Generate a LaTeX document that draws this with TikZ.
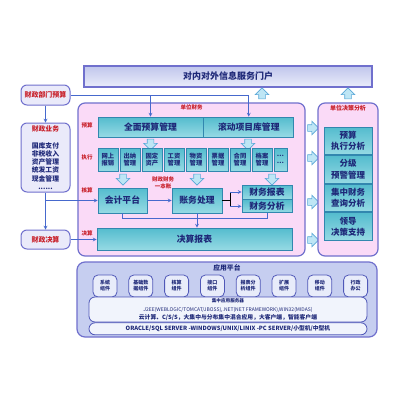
\documentclass[tikz,border=0pt]{standalone}
\usepackage{fontspec}
\setmainfont{Noto Sans CJK SC}
\usetikzlibrary{shapes,arrows,positioning,calc}

\newcommand{\fsz}[2]{\fontsize{#1}{#2}\selectfont}

\definecolor{navy}{RGB}{30,40,120}
\definecolor{tagred}{RGB}{200,30,40}
\definecolor{framecol}{RGB}{112,112,205}
\definecolor{pinkbg}{RGB}{250,218,247}
\definecolor{bannertop}{RGB}{192,198,236}
\definecolor{bannerbot}{RGB}{234,236,250}
\definecolor{tealtop}{RGB}{84,188,206}
\definecolor{tealbot}{RGB}{150,218,228}
\definecolor{tealline}{RGB}{50,135,175}
\definecolor{sidebg}{RGB}{234,234,250}
\definecolor{platbg}{RGB}{198,206,240}
\definecolor{compbg}{RGB}{232,236,250}
\definecolor{compline}{RGB}{80,88,184}
\definecolor{wire}{RGB}{70,105,205}
\definecolor{hollowbg}{RGB}{190,230,245}
\definecolor{hollowline}{RGB}{90,168,216}

\begin{document}
\begin{tikzpicture}[
    x=1pt, y=-1pt,
    every node/.style={font=\fsz{7}{8}, text=navy, inner sep=0pt},
    banner/.style={rectangle, draw=framecol, line width=1.2pt, top color=bannertop, bottom color=bannerbot, minimum width=288pt, minimum height=21pt},
    sidebox/.style={rectangle, rounded corners=6pt, draw=framecol, line width=1pt, fill=sidebg, minimum width=49pt, text=tagred, font=\fsz{7}{8}\bfseries},
    panel/.style={rectangle, rounded corners=7pt, draw=framecol, line width=1.2pt, fill=pinkbg},
    tealbox/.style={rectangle, draw=tealline, line width=0.8pt, top color=tealtop, bottom color=tealbot, font=\fsz{8.8}{10}\bfseries, align=center},
    cell/.style={tealbox, minimum width=20pt, minimum height=23pt, font=\fsz{6.3}{7.3}\bfseries},
    decbox/.style={tealbox, minimum width=48pt, minimum height=27.75pt, font=\fsz{8.5}{11.5}\bfseries},
    tag/.style={text=tagred, font=\fsz{5.5}{6.2}\bfseries, align=center},
    platform/.style={rectangle, rounded corners=8pt, draw=framecol, line width=1.2pt, fill=platbg},
    comp/.style={rectangle, rounded corners=5pt, draw=compline, line width=0.8pt, fill=compbg, minimum width=24pt, minimum height=22pt, align=center, font=\fsz{5}{6}\bfseries},
    band/.style={rectangle, rounded corners=6pt, draw=compline, line width=0.8pt, fill=compbg!60!white, minimum width=278pt, align=center},
    hollow/.style={single arrow, draw=hollowline, fill=hollowbg, line width=0.6pt, inner sep=3pt, single arrow head extend=3.5pt, minimum height=11pt},
    arrow/.style={->,>=stealth, draw=wire, line width=0.7pt}
]

\fill[white] (0,0) rectangle (400,400);
\useasboundingbox (0,0) rectangle (400,400);

% Portal
\node[banner] (portal) at (228,76.5) {\fsz{9}{10}\bfseries 对内对外信息服务门户};
\node[hollow, shape border rotate=90] (upA) at (262,95) {};
\node[hollow, shape border rotate=90] (upB) at (348,95) {};

% Finance department column
\node[sidebox, minimum height=20pt] (deptbudget) at (45.5,95) {财政部门预算};
\node[sidebox, minimum height=69pt, align=center, text=navy, font=\fsz{6.8}{8.2}\bfseries] (finbiz) at (45.5,157.5) {\textcolor{tagred}{财政业务}\\[8.5pt] 国库支付\\ 非税收入\\ 资产管理\\ 统发工资\\ 现金管理\\ ......};
\node[sidebox, minimum height=19pt] (finfinal) at (45.5,239.5) {财政决算};

% Unit finance panel
\node[panel, minimum width=227pt, minimum height=153pt] (unitfin) at (191.5,179.5) {};
\node[tag, below=2.5pt of unitfin.north] (unitfintag) {单位财务};
\node[tag] (tagbudget) at (87,125) {预算};
\node[tag] (tagexec) at (87,157) {执行};
\node[tag] (tagacct) at (87,190) {核算};
\node[tag] (tagfinal) at (87,233) {决算};

% Budget row
\node[tealbox, minimum width=105pt, minimum height=20pt] (budgetmgmt) at (150.5,127) {全面预算管理};
\node[tealbox, minimum width=90pt, minimum height=20pt, right=0pt of budgetmgmt] (projlib) {滚动项目库管理};
\node[hollow, shape border rotate=270] (dnA) at (150.5,143) {};
\node[hollow, shape border rotate=270] (dnB) at (248,143) {};

% Execution modules
\node[cell] (reimb) at (108,159.5) {网上\\报销};
\node[cell, right=1.2pt of reimb] (cashier) {出纳\\管理};
\node[cell, right=1.2pt of cashier] (assets) {固定\\资产};
\node[cell, right=1.2pt of assets] (payroll) {工资\\管理};
\node[cell, right=1.2pt of payroll] (materials) {物资\\管理};
\node[cell, right=1.2pt of materials] (bills) {票据\\管理};
\node[cell, right=1.2pt of bills] (contracts) {合同\\管理};
\node[cell, right=1.2pt of contracts] (archives) {档案\\管理};
\node[cell, right=1.2pt of archives, minimum width=13pt] (more) {…\\…};
\node[hollow, shape border rotate=270] (dnC) at (123,178) {};
\node[hollow, shape border rotate=270] (dnD) at (197,178) {};
\node[hollow, shape border rotate=270] (dnE) at (272,178) {};

% Accounting row
\node[tealbox, minimum width=49pt, minimum height=25pt] (acct) at (122.5,200.5) {会计平台};
\node[tag] (ledgertag) at (163,183) {财政财务\\一本账};
\node[tealbox, minimum width=50pt, minimum height=25pt] (ledger) at (197,200.5) {账务处理};
\node[tealbox, minimum width=50pt, minimum height=14pt] (report) at (267,192) {财务报表};
\node[tealbox, minimum width=50pt, minimum height=13pt, below=0pt of report] (analysis) {财务分析};
\node[tealbox, minimum width=195pt, minimum height=22pt] (finalrpt) at (194.5,239) {决算报表};

% Decision panel
\node[hollow] (rtA) at (311.5,128) {};
\node[hollow] (rtB) at (311.5,158) {};
\node[hollow] (rtC) at (311.5,202) {};
\node[hollow] (rtD) at (311.5,240) {};
\node[panel, minimum width=60pt, minimum height=153pt] (decision) at (348,179.5) {};
\node[tag, below=2.5pt of decision.north, font=\fsz{6}{7}\bfseries] (decisiontag) {单位决策分析};
\node[decbox] (execana) at (348,140.9) {预算\\执行分析};
\node[decbox, below=0pt of execana] (warning) {分级\\预警管理};
\node[decbox, below=0pt of warning] (query) {集中财务\\查询分析};
\node[decbox, below=0pt of query] (leader) {领导\\决策支持};

% Application platform
\node[platform, minimum width=300pt, minimum height=75pt] (appplat) at (227,299.5) {};
\node[below=3pt of appplat.north, font=\fsz{6.8}{8}\bfseries] (appplattag) {应用平台};
\node[comp] (syscomp) at (105,286) {系统\\组件};
\node[comp, right=11pt of syscomp] (basedata) {基础数\\据组件};
\node[comp, right=11pt of basedata] (acctcomp) {核算\\组件};
\node[comp, right=11pt of acctcomp] (iface) {接口\\组件};
\node[comp, right=11pt of iface] (rptcomp) {报表分\\析组件};
\node[comp, right=11pt of rptcomp] (extcomp) {扩展\\组件};
\node[comp, right=11pt of extcomp] (mobile) {移动\\组件};
\node[comp, right=11pt of mobile] (office) {行政\\办公};
\node[band, minimum height=25pt] (server) at (228,309.5) {{\fsz{4.6}{5.5}\bfseries 集中应用服务器}\\[1pt] {\fsz{5}{6}J2EE(WEBLOGIC/TOMCAT/JBOSS),.NET(NET FRAMEWORK),WIN32(MIDAS)}\\ {\fsz{5.8}{7}\bfseries 云计算、C/S/S，大集中与分布集中混合应用，大客户端，智能客户端}};
\node[band, minimum height=12pt, below=0pt of server] (dbline) {\fsz{5.8}{7}\bfseries ORACLE/SQL SERVER -WINDOWS/UNIX/LINIX -PC SERVER/小型机/中型机};

% Connectors
\draw[arrow] (deptbudget.east) -| (projlib.north);
\draw[arrow] (budgetmgmt.north |- deptbudget.east) -- (budgetmgmt.north);
\draw[arrow] (deptbudget) -- (finbiz);
\draw[arrow] (finbiz) -- (finfinal);
\draw[arrow] (finbiz.south |- acct.west) -- (acct.west);
\draw[arrow] (finfinal.east) -- (finfinal.east -| finalrpt.west);
\draw[arrow] (acct) -- (ledger);
\draw (ledger.east) -- ++(8,0) coordinate (fork);
\draw (fork |- report.west) -- (fork |- analysis.west);
\draw[arrow] (fork |- report.west) -- (report.west);
\draw[arrow] (fork |- analysis.west) -- (analysis.west);
\draw[draw=wire, line width=0.7pt] (acct.south) -- ++(0,5) -| (analysis.south);
\draw[arrow] (ledger.south) -- (ledger.south |- finalrpt.north);

\end{tikzpicture}
\end{document}
